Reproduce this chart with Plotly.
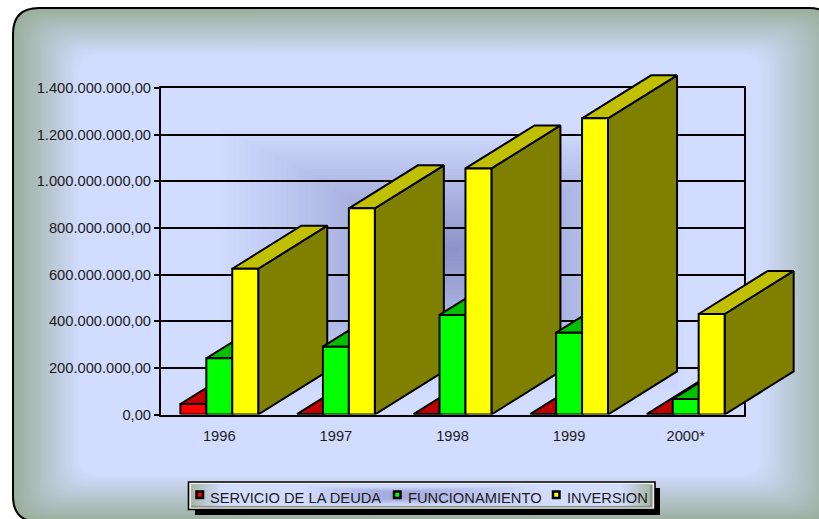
import plotly.graph_objects as go

categories = ["1996", "1997", "1998", "1999", "2000*"]
servicio = [45e6, 2e6, 2e6, 2e6, 2e6]
funcionamiento = [241e6, 291e6, 427e6, 351e6, 66e6]
inversion = [625e6, 884e6, 1055e6, 1270e6, 431e6]
series_names = ["SERVICIO DE LA DEUDA", "FUNCIONAMIENTO", "INVERSION"]
y_ticks = [0, 200e6, 400e6, 600e6, 800e6, 1000e6, 1200e6, 1400e6]

W, H = 819, 519
L, R, T, B = 161, 744, 88, 414.5      # frame of the plot, in pixels
L2, T2, R2 = 161, 40, 819             # larger frame for the 3-D boxes, which overflow the plot
Y_MAX = 1400e6
FRONT = ["#ff0000", "#00ff00", "#ffff00"]
TOP = ["#c00000", "#00c000", "#c0c000"]
SIDE = ["#800000", "#008000", "#808000"]
BAR_W = 0.2225
DEPTH_X = 0.592
DEPTH_Y = 184.5e6
FONT = "Liberation Sans, Arial, sans-serif"
TEXT = "#1c1c1c"
SIZE = 14.7


def mix(a, b, t):
    return "#%02x%02x%02x" % tuple(round(a[i] + (b[i] - a[i]) * t) for i in range(3))


def px(x):
    return x / W


def py(y):
    return 1 - y / H


def rrect(x0, y0, x1, y1, r):
    a, b, c, d = px(x0), px(x1), py(y0), py(y1)
    rx, ry = r / W, r / H
    return (f"M{a+rx},{c} L{b-rx},{c} Q{b},{c} {b},{c-ry} L{b},{d+ry} Q{b},{d} {b-rx},{d} "
            f"L{a+rx},{d} Q{a},{d} {a},{d+ry} L{a},{c-ry} Q{a},{c} {a+rx},{c} Z")


def panel(x0, y0, x1, y1, r, fill, line=None, lw=0):
    return dict(type="path", xref="paper", yref="paper", layer="below", path=rrect(x0, y0, x1, y1, r),
                fillcolor=fill, line=dict(color=line or "rgba(0,0,0,0)", width=lw))


RIM = (0x9a, 0xae, 0x9c)
LIGHT = (0xd2, 0xdc, 0xff)
DARK = (0x8a, 0x92, 0xc8)
shapes = []
# chart area: rim fading to the light inner field
STEPS = 44
for i in range(STEPS + 1):
    t = i / STEPS
    shapes.append(panel(13 + 67 * t, 8 + 47 * t, 835 - 75 * t, 522 - 47 * t, max(26 - 6 * t, 20),
                        mix(RIM, LIGHT, t)))
shapes.append(panel(13, 8, 835, 522, 26, "rgba(0,0,0,0)", "#000000", 2))
# darker glow at the middle of the field
STEPS = 40
for i in range(STEPS + 1):
    t = i / STEPS
    shapes.append(panel(215 + 238 * t, 125 + 125 * t, 690 - 237 * t, 395 - 145 * t, 0,
                        mix(LIGHT, DARK, t)))
# legend box
shapes.append(panel(195, 488, 660, 515, 0, "#000000"))
shapes.append(panel(188.5, 482, 655, 509.5, 0, "#f0f2f0", "#000000", 1.6))
shapes.append(panel(191, 484.5, 652.5, 507.5, 0, "#868f86"))
STEPS = 14
for i in range(STEPS + 1):
    t = i / STEPS
    shapes.append(panel(191 + 30 * t, 484.5, 650.5 - 28 * t, 505.5, 0,
                        mix((0xa8, 0xb8, 0xa8), (0xd2, 0xdc, 0xff), t)))
for i in range(STEPS + 1):
    t = i / STEPS
    shapes.append(panel(300 + 90 * t, 486 + 6 * t, 545 - 145 * t, 505 - 6 * t, 0,
                        mix((0xd2, 0xdc, 0xff), (0xa0, 0xa8, 0xda), t)))
# legend swatches
SWATCH_X = [195, 392.5, 551.5]
LABEL_X = [209, 406.5, 566]
annotations = []
for s, name in enumerate(series_names):
    shapes.append(dict(type="rect", xref="paper", yref="paper", layer="above",
                       x0=px(SWATCH_X[s] + 1.5), x1=px(SWATCH_X[s] + 8), y0=py(491.5), y1=py(498),
                       fillcolor=FRONT[s], line=dict(color="#000000", width=2.5)))
    annotations.append(dict(xref="paper", yref="paper", x=px(LABEL_X[s]), y=py(497.5), text=name,
                            showarrow=False, xanchor="left", yanchor="middle", borderpad=0,
                            font=dict(family=FONT, size=SIZE, color=TEXT)))

fig = go.Figure()


def face(xs, ys, color):
    fig.add_trace(go.Scatter(x=xs, y=ys, xaxis="x2", yaxis="y2", mode="lines", fill="toself", fillcolor=color,
                             line=dict(color="#000000", width=2), hoverinfo="skip",
                             showlegend=False))


# invisible carriers keep the visible axes in the figure
for s, name in enumerate(series_names):
    fig.add_trace(go.Scatter(x=[None], y=[None], mode="markers", name=name,
                             marker=dict(color=FRONT[s]), showlegend=False, hoverinfo="skip"))

values = [servicio, funcionamiento, inversion]
for c in range(len(categories)):
    for s, vals in enumerate(values):
        x0 = c + (s - 1.5) * BAR_W
        x1 = x0 + BAR_W
        v = vals[c]
        face([x1, x1 + DEPTH_X, x1 + DEPTH_X, x1, x1], [0, DEPTH_Y, v + DEPTH_Y, v, 0], SIDE[s])
        face([x0, x0 + DEPTH_X, x1 + DEPTH_X, x1, x0], [v, v + DEPTH_Y, v + DEPTH_Y, v, v], TOP[s])
        face([x0, x1, x1, x0, x0], [0, 0, v, v, 0], FRONT[s])

x_scale = 5 / (R - L)
y_scale = Y_MAX / (B - T)
fig.update_layout(
    width=W, height=H, autosize=False,
    margin=dict(l=0, r=0, t=0, b=0, pad=0),
    paper_bgcolor="#ffffff", plot_bgcolor="rgba(0,0,0,0)",
    separators=",.",
    font=dict(family=FONT, size=SIZE, color=TEXT),
    shapes=shapes, annotations=annotations,
    showlegend=False,
    xaxis=dict(domain=[px(L), px(R)], anchor="y", range=[-0.5, 4.5], tickmode="array", tickvals=list(range(5)),
               ticktext=categories, showgrid=False, zeroline=False, showline=True, mirror=True,
               linecolor="#000000", linewidth=2, ticks="outside", ticklen=7, tickcolor="rgba(0,0,0,0)",
               layer="below traces", tickfont=dict(family=FONT, size=SIZE, color=TEXT), fixedrange=True,
               automargin=False),
    yaxis=dict(domain=[py(B), py(T)], anchor="x", range=[0, Y_MAX], tickmode="array", tickvals=y_ticks,
               tickformat=",.2f", showgrid=True, gridcolor="#000000", gridwidth=1.5, zeroline=False,
               showline=True, mirror=True, linecolor="#000000", linewidth=2,
               ticks="outside", ticklen=5, tickcolor="#000000", tickwidth=1.5, layer="below traces",
               tickfont=dict(family=FONT, size=SIZE, color=TEXT), fixedrange=True, automargin=False),
    xaxis2=dict(domain=[px(L2), px(R2)], anchor="y2", range=[-0.5, -0.5 + (R2 - L2) * x_scale], visible=False,
                fixedrange=True),
    yaxis2=dict(domain=[py(B), py(T2)], anchor="x2", range=[0, (B - T2) * y_scale], visible=False,
                fixedrange=True),
)
fig.write_html("out.html", config=dict(displayModeBar=False),
               post_script="document.body.style.margin='0';document.documentElement.style.overflow='hidden';")
